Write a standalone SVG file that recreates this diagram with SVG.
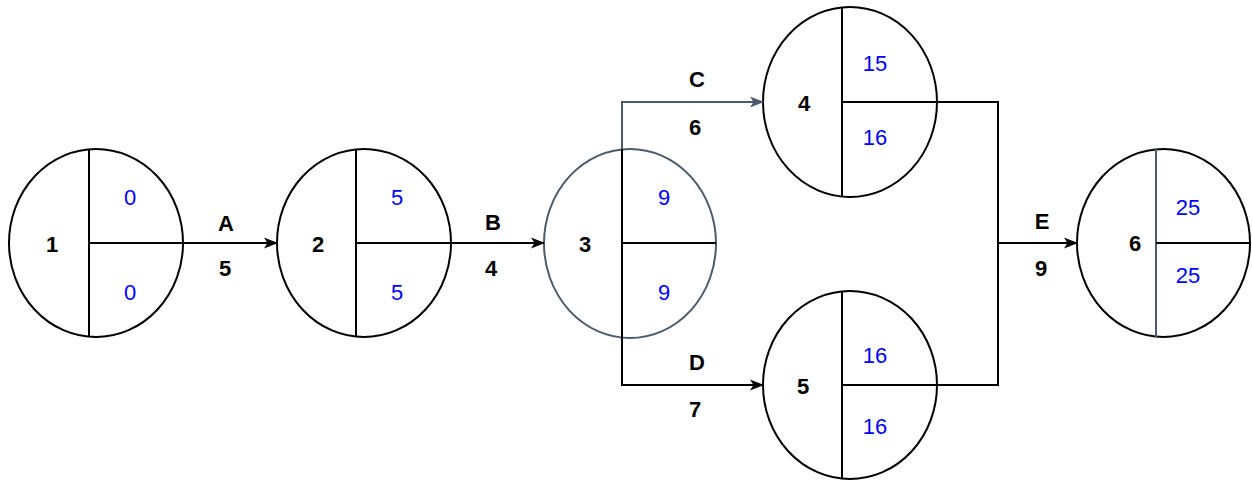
<svg xmlns="http://www.w3.org/2000/svg" width="1252" height="483" viewBox="0 0 1252 483">
  <style>
    .ring { fill: #ffffff; stroke: #000000; stroke-width: 2; }
    .ring.slate { stroke: #4d5a6b; }
    .div { stroke: #000000; stroke-width: 2; fill: none; }
    .div.slate { stroke: #4d5a6b; }
    .edge { stroke: #000000; stroke-width: 2; fill: none; }
    .edge.slate { stroke: #4d5a6b; }
    .id { font-family: "Liberation Sans", Arial, sans-serif; font-size: 22px; font-weight: bold; fill: #000000; text-anchor: middle; dominant-baseline: central; }
    .val { font-family: "Liberation Sans", Arial, sans-serif; font-size: 22px; fill: #0000ff; text-anchor: middle; dominant-baseline: central; }
    .lbl { font-family: "Liberation Sans", Arial, sans-serif; font-size: 22px; font-weight: bold; fill: #000000; text-anchor: middle; dominant-baseline: central; }
  </style>
  <defs>
    <marker id="arrow" viewBox="0 0 14 14" refX="13" refY="7" markerWidth="14" markerHeight="14" markerUnits="userSpaceOnUse" orient="auto">
      <path d="M0,1.5 L14,7 L0,12.5 L3.5,7 Z" fill="#000000"/>
    </marker>
    <marker id="arrow-slate" viewBox="0 0 14 14" refX="13" refY="7" markerWidth="14" markerHeight="14" markerUnits="userSpaceOnUse" orient="auto">
      <path d="M0,1.5 L14,7 L0,12.5 L3.5,7 Z" fill="#4d5a6b"/>
    </marker>
  </defs>

  <rect width="1252" height="483" fill="#ffffff"/>

  <!-- event nodes: number on the left, earliest / latest times on the right -->
  <g id="node-1">
    <ellipse class="ring" cx="96" cy="243" rx="87" ry="94"/>
    <line class="div" x1="89" y1="149" x2="89" y2="337"/>
    <line class="div" x1="89" y1="243" x2="183" y2="243"/>
    <text class="id" x="52" y="244">1</text>
    <text class="val" x="130" y="197">0</text>
    <text class="val" x="130" y="292">0</text>
  </g>

  <g id="node-2">
    <ellipse class="ring" cx="364" cy="243" rx="87" ry="94"/>
    <line class="div" x1="356" y1="149" x2="356" y2="337"/>
    <line class="div" x1="356" y1="243" x2="451" y2="243"/>
    <text class="id" x="318" y="244">2</text>
    <text class="val" x="397" y="197">5</text>
    <text class="val" x="397" y="292">5</text>
  </g>

  <g id="node-3">
    <ellipse class="ring slate" cx="630" cy="243.5" rx="86" ry="94.5"/>
    <line class="div" x1="622" y1="243" x2="716" y2="243"/>
    <text class="id" x="585" y="244">3</text>
    <text class="val" x="664" y="197">9</text>
    <text class="val" x="664" y="292">9</text>
  </g>

  <g id="node-4">
    <ellipse class="ring" cx="850" cy="102" rx="87" ry="95"/>
    <line class="div" x1="842" y1="7" x2="842" y2="197"/>
    <line class="div" x1="842" y1="102" x2="937" y2="102"/>
    <text class="id" x="804" y="103">4</text>
    <text class="val" x="875" y="63">15</text>
    <text class="val" x="875" y="137">16</text>
  </g>

  <g id="node-5">
    <ellipse class="ring" cx="850" cy="385" rx="87" ry="94"/>
    <line class="div" x1="842" y1="291" x2="842" y2="479"/>
    <line class="div" x1="842" y1="385" x2="937" y2="385"/>
    <text class="id" x="803" y="386">5</text>
    <text class="val" x="875" y="355">16</text>
    <text class="val" x="875" y="426">16</text>
  </g>

  <g id="node-6">
    <ellipse class="ring" cx="1163.5" cy="243" rx="86.5" ry="94"/>
    <line class="div slate" x1="1156" y1="149" x2="1156" y2="337"/>
    <line class="div" x1="1156" y1="243" x2="1250" y2="243"/>
    <text class="id" x="1135" y="243">6</text>
    <text class="val" x="1188" y="207">25</text>
    <text class="val" x="1188" y="275">25</text>
  </g>

  <!-- activities -->
  <g id="connectors">
    <line class="edge" x1="183" y1="243" x2="277" y2="243" marker-end="url(#arrow)"/>
    <line class="edge" x1="451" y1="243" x2="544" y2="243" marker-end="url(#arrow)"/>
    <!-- C: up from node 3 to node 4 -->
    <line class="edge" x1="622" y1="243" x2="622" y2="149"/>
    <polyline class="edge slate" points="622,149 622,102 763,102" marker-end="url(#arrow-slate)"/>
    <!-- D: down from node 3 to node 5 -->
    <polyline class="edge" points="622,243 622,385 763,385" marker-end="url(#arrow)"/>
    <!-- E: nodes 4 and 5 merge into node 6 -->
    <polyline class="edge" points="937,102 998,102 998,385 937,385"/>
    <line class="edge" x1="998" y1="243" x2="1077" y2="243" marker-end="url(#arrow)"/>

    <text class="lbl" x="226" y="223">A</text>
    <text class="lbl" x="225" y="268">5</text>
    <text class="lbl" x="493" y="222">B</text>
    <text class="lbl" x="491" y="268">4</text>
    <text class="lbl" x="697" y="79">C</text>
    <text class="lbl" x="695" y="127">6</text>
    <text class="lbl" x="697" y="362">D</text>
    <text class="lbl" x="695" y="409">7</text>
    <text class="lbl" x="1042" y="221">E</text>
    <text class="lbl" x="1041" y="268">9</text>
  </g>
</svg>
